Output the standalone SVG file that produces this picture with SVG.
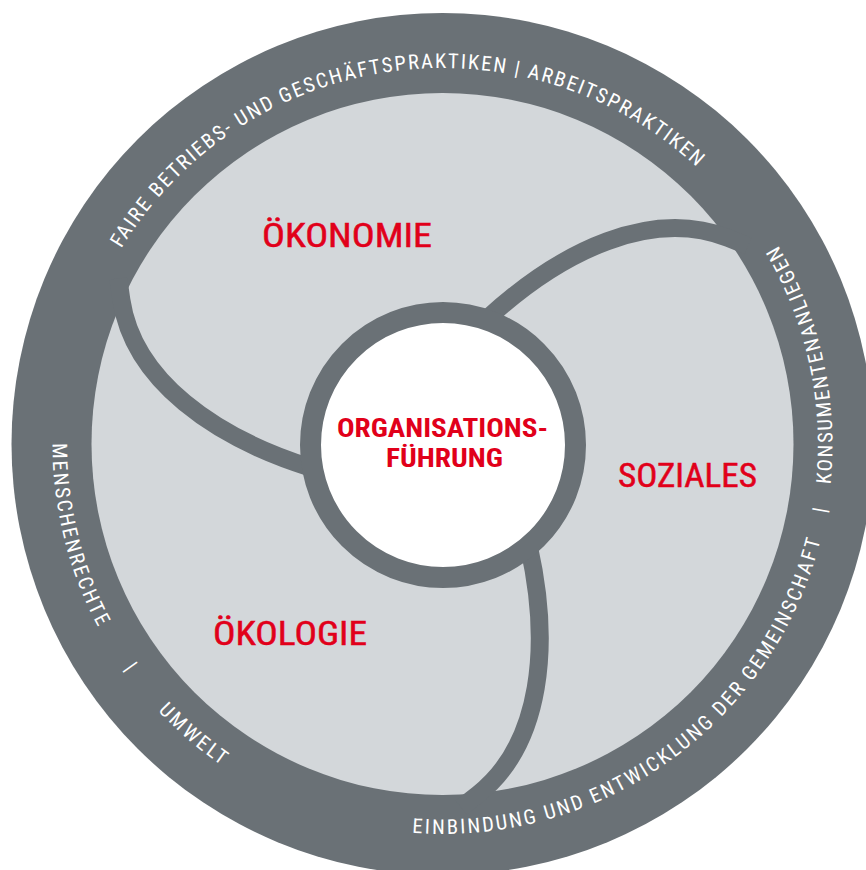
<svg xmlns="http://www.w3.org/2000/svg" width="866" height="870" viewBox="0 0 866 870">
<style>
.ring{fill:#6a7176}
.field{fill:#d3d7da}
.arm{fill:none;stroke:#6a7176;stroke-width:18}
.core{fill:#ffffff;stroke:#6a7176;stroke-width:21}
.rt{font-family:"Liberation Sans Narrow","Roboto Condensed","DejaVu Sans Condensed","Liberation Sans",sans-serif;font-stretch:condensed;font-size:20.5px;fill:#ffffff}
.lbl{font-family:"Liberation Sans Narrow","Roboto Condensed","Liberation Sans",sans-serif;font-stretch:condensed;font-size:33px;fill:#e1001a;stroke:#e1001a;stroke-width:0.5}
.ct{font-family:"Liberation Sans Narrow","Roboto Condensed","Liberation Sans",sans-serif;font-stretch:condensed;font-weight:bold;font-size:26px;fill:#e1001a}
</style>
<defs>
<path id="pt" d="M67.93,411.23 A376,376 0 0 1 817.07,411.23"/>
<path id="pb" d="M76.02,310.61 A390,390 0 1 0 718.27,168.23"/>
<path id="armp" d="M488,318 C562,250 652,208 728,238 L748,246"/>
</defs>
<g id="outer-ring">
<circle class="ring" cx="442.5" cy="444" r="431"/>
<circle class="field" cx="442.5" cy="444" r="351"/>
<text class="rt"><textPath href="#pt" startOffset="172.6" textLength="664" lengthAdjust="spacing">FAIRE BETRIEBS- UND GESCHÄFTSPRAKTIKEN | ARBEITSPRAKTIKEN</textPath></text>
<text class="rt"><textPath href="#pb" startOffset="135.5" textLength="191" lengthAdjust="spacing">MENSCHENRECHTE</textPath></text>
<text class="rt"><textPath href="#pb" startOffset="377.8" text-anchor="middle">|</textPath></text>
<text class="rt"><textPath href="#pb" startOffset="429.5" textLength="84" lengthAdjust="spacing">UMWELT</textPath></text>
<text class="rt"><textPath href="#pb" startOffset="718.1" textLength="546" lengthAdjust="spacing">EINBINDUNG UND ENTWICKLUNG DER GEMEINSCHAFT</textPath></text>
<text class="rt"><textPath href="#pb" startOffset="1293.3" text-anchor="middle">|</textPath></text>
<text class="rt"><textPath href="#pb" startOffset="1320.5" textLength="249" lengthAdjust="spacing">KONSUMENTENANLIEGEN</textPath></text>
</g>
<g id="connectors">
<use href="#armp" class="arm"/>
<use href="#armp" class="arm" transform="rotate(120 442.5 444)"/>
<use href="#armp" class="arm" transform="rotate(240 442.5 444)"/>
</g>
<g id="oekonomie">
<text class="lbl" x="262" y="247" textLength="170" lengthAdjust="spacingAndGlyphs">ÖKONOMIE</text>
</g>
<g id="soziales">
<text class="lbl" x="618" y="487" textLength="139" lengthAdjust="spacingAndGlyphs">SOZIALES</text>
</g>
<g id="oekologie">
<text class="lbl" x="213" y="645" textLength="154" lengthAdjust="spacingAndGlyphs">ÖKOLOGIE</text>
</g>
<g id="organisationsfuehrung">
<circle class="core" cx="443" cy="445" r="132.5"/>
<text class="ct" x="337" y="437" textLength="211" lengthAdjust="spacingAndGlyphs">ORGANISATIONS-</text>
<text class="ct" x="386" y="467" textLength="117" lengthAdjust="spacingAndGlyphs">FÜHRUNG</text>
</g>
</svg>
